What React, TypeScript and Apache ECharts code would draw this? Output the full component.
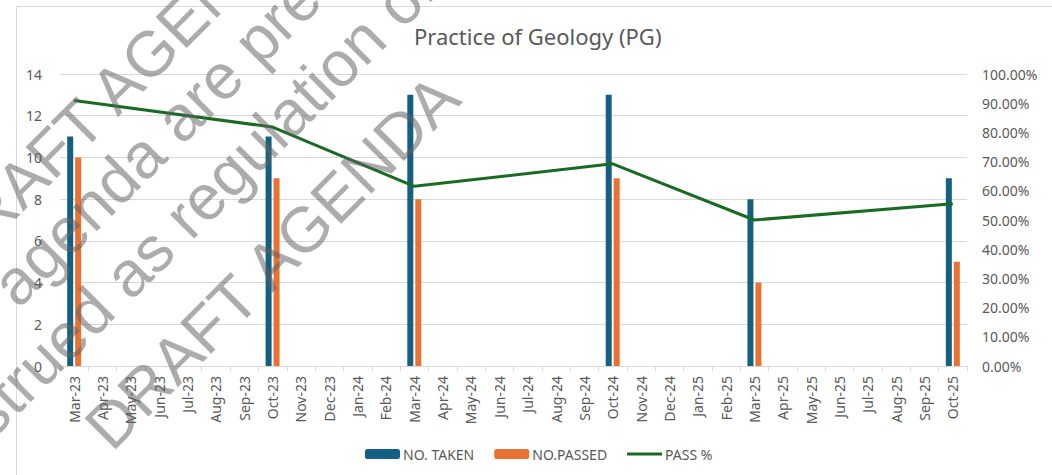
import React, { useEffect, useRef } from "react";
import * as echarts from "echarts";

const categories = [
  "Mar-23", "Apr-23", "May-23", "Jun-23", "Jul-23", "Aug-23", "Sep-23", "Oct-23", "Nov-23", "Dec-23",
  "Jan-24", "Feb-24", "Mar-24", "Apr-24", "May-24", "Jun-24", "Jul-24", "Aug-24", "Sep-24", "Oct-24", "Nov-24", "Dec-24",
  "Jan-25", "Feb-25", "Mar-25", "Apr-25", "May-25", "Jun-25", "Jul-25", "Aug-25", "Sep-25", "Oct-25",
];

const examMonths = ["Mar-23", "Oct-23", "Mar-24", "Oct-24", "Mar-25", "Oct-25"];
const noTaken = [11, 11, 13, 13, 8, 9];
const noPassed = [10, 9, 8, 9, 4, 5];
const passPct = [90.91, 81.82, 61.54, 69.23, 50.0, 55.56];

const leftTicks = { min: 0, max: 14, interval: 2 };
const rightTicks = { min: 0, max: 100, interval: 10 };

const TITLE = "Practice of Geology (PG)";
const watermarkLines = ["DRAFT AGENDA", "agenda are presented", "construed as regulation or", "DRAFT AGENDA"];

function toMonthly(values: number[]): (number | null)[] {
  return categories.map((c) => {
    const i = examMonths.indexOf(c);
    return i >= 0 ? values[i] : null;
  });
}

const FONT = "Noto Sans";
const TEXT = "#595959";
const GRID = "#D9D9D9";
const LINE_ICON = "path://M0,0 L0.01,0 L0.01,0.01 Z M0,3.5 L35,3.5 L35,6.5 L0,6.5 Z M34.99,10 L35,10 L35,9.99 Z";

export default function App() {
  const ref = useRef<HTMLDivElement>(null);
  useEffect(() => {
    document.body.style.margin = "0";
    if (!ref.current) return;
    const chart = echarts.init(ref.current, null, { renderer: "svg" });

    const theta = (45 * Math.PI) / 180;
    const wmUV = [
      [-226, 144],
      [-206, 210],
      [-420, 284],
      [-241, 377.5],
    ];
    const watermark = watermarkLines.map((t, i) => {
      const [u, v] = wmUV[i];
      return {
        type: "text",
        x: u * Math.cos(theta) + v * Math.sin(theta),
        y: -u * Math.sin(theta) + v * Math.cos(theta),
        rotation: theta,
        silent: true,
        z: 100,
        style: {
          text: t,
          fontSize: 64,
          fontFamily: "Liberation Sans",
          fill: "rgba(95,95,95,0.52)",
          align: "left",
          verticalAlign: "middle",
        },
      };
    });

    chart.setOption({
      animation: false,
      textStyle: { fontFamily: FONT },
      title: {
        text: TITLE,
        left: 414,
        top: 25,
        padding: 0,
        textStyle: { fontFamily: FONT, fontSize: 22, fontWeight: "normal", color: TEXT },
      },
      legend: {
        left: 360,
        top: 442,
        itemWidth: 35,
        itemHeight: 10,
        itemGap: 20,
        textStyle: { fontFamily: FONT, fontSize: 14, color: TEXT, padding: [0, 0, 0, -2] },
        data: [
          { name: "NO. TAKEN" },
          { name: "NO.PASSED" },
          { name: "PASS %", icon: LINE_ICON },
        ],
      },
      grid: { left: 60, right: 85, top: 74, bottom: 109 },
      xAxis: {
        type: "category",
        data: categories,
        boundaryGap: true,
        axisLine: { lineStyle: { color: GRID } },
        axisTick: { show: true, length: 5, lineStyle: { color: GRID } },
        axisLabel: { rotate: 90, interval: 0, fontSize: 14, color: TEXT, margin: 10, fontFamily: FONT },
      },
      yAxis: [
        {
          type: "value",
          min: leftTicks.min,
          max: leftTicks.max,
          interval: leftTicks.interval,
          axisLine: { show: false },
          axisTick: { show: false },
          axisLabel: { fontSize: 14, color: TEXT, margin: 18, fontFamily: FONT },
          splitLine: { lineStyle: { color: GRID, width: 1 } },
        },
        {
          type: "value",
          min: rightTicks.min,
          max: rightTicks.max,
          interval: rightTicks.interval,
          axisLine: { show: false },
          axisTick: { show: false },
          splitLine: { show: false },
          axisLabel: {
            fontSize: 14,
            color: TEXT,
            margin: 15,
            fontFamily: FONT,
            formatter: (v: number) => v.toFixed(2) + "%",
          },
        },
      ],
      series: [
        {
          name: "NO. TAKEN",
          type: "bar",
          data: toMonthly(noTaken),
          barWidth: 6,
          barGap: "33%",
          itemStyle: { color: "#156082" },
        },
        {
          name: "NO.PASSED",
          type: "bar",
          data: toMonthly(noPassed),
          barWidth: 6,
          itemStyle: { color: "#E97132" },
        },
        {
          name: "PASS %",
          type: "line",
          yAxisIndex: 1,
          data: toMonthly(passPct),
          connectNulls: true,
          symbol: "none",
          lineStyle: { color: "#196B24", width: 3 },
          itemStyle: { color: "#196B24" },
          z: 5,
        },
      ],
      graphic: [
        {
          type: "rect",
          silent: true,
          z: -10,
          shape: { x: 16.5, y: 6.5, width: 1100, height: 600 },
          style: { fill: "none", stroke: GRID, lineWidth: 1 },
        },
        ...watermark,
      ],
    });
    return () => chart.dispose();
  }, []);
  return <div ref={ref} style={{ width: 1052, height: 475 }} />;
}
